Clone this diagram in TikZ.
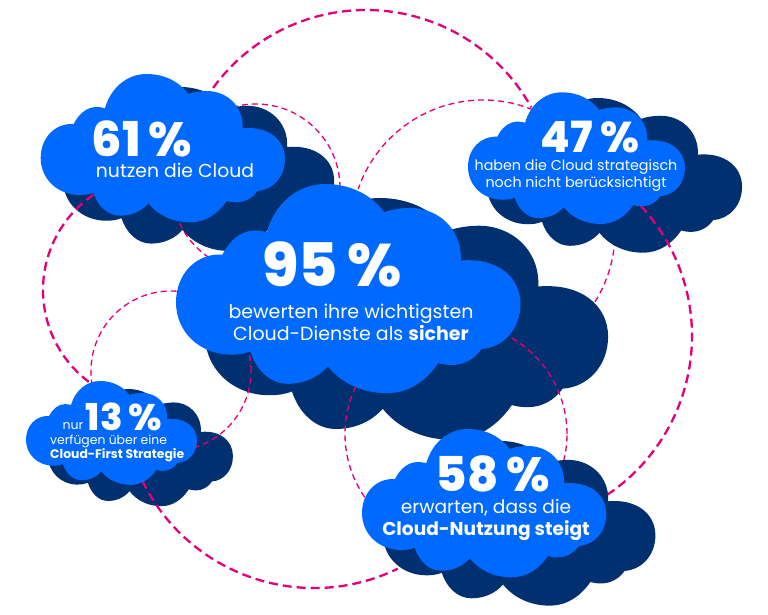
\documentclass[tikz,border=0pt]{standalone}
\usepackage{fontspec}
\setmainfont{Poppins}
\newfontfamily\pctfont{Poppins}[UprightFont=* ExtraBold]
\usepackage{color}

\definecolor{cloudlight}{HTML}{0069FF}
\definecolor{clouddark}{HTML}{00306F}
\definecolor{ringpink}{HTML}{E2007A}

% one cloud: left, top, x scale, y scale, colour
\newcommand{\cloudblob}[5]{
  \fill[#5,shift={(#1,-#2)},xscale=#3,yscale=#4]
    (0,-84) .. controls (0,-64) and (14,-49) .. (33,-50)
    .. controls (38,-40) and (46,-33) .. (56,-33)
    .. controls (59,-33) and (62,-33.5) .. (64.3,-34.3)
    .. controls (70,-14) and (86,0) .. (106,0)
    .. controls (124,0) and (139,-8) .. (147.7,-20)
    .. controls (153,-18) and (160,-17) .. (166,-17)
    .. controls (186,-17) and (203,-32) .. (202,-54.3)
    .. controls (228,-52) and (244.3,-66) .. (244.3,-85)
    .. controls (244.3,-103) and (232,-116) .. (216.7,-117)
    .. controls (212,-124) and (204,-128.3) .. (196,-128.3)
    .. controls (192,-128.3) and (189,-128) .. (186,-127)
    .. controls (177,-140) and (165,-148.3) .. (149.3,-148.3)
    .. controls (132,-148.3) and (117,-141) .. (107.7,-129.3)
    .. controls (101,-137) and (91,-141.7) .. (79.3,-141.7)
    .. controls (67,-141.7) and (57,-132) .. (52.7,-118.7)
    .. controls (48,-120.5) and (44,-121) .. (39,-121)
    .. controls (17,-121) and (0,-105) .. (0,-84) -- cycle;
}

\tikzset{
  thinring/.style={ringpink,line width=1.3pt,dash pattern=on 6pt off 4pt},
  thickring/.style={ringpink,line width=2.3pt,dash pattern=on 9pt off 5pt},
  pcttext/.style={text=white,inner sep=0pt,font=\pctfont\fontsize{#1}{#1}\selectfont},
  labeltext/.style 2 args={text=white,inner sep=0pt,align=center,font=\fontsize{#1}{#2}\selectfont}
}

\begin{document}
\begin{tikzpicture}[x=1pt,y=1pt]
  \useasboundingbox (0,0) rectangle (768,-614);

  % Dark clouds under the thin rings
  \cloudblob{63}{87}{1.11}{1.105}{clouddark}
  \cloudblob{48}{389}{0.757}{0.79}{clouddark}
  \cloudblob{205}{198}{1.65}{1.63}{clouddark}

  % Thin rings
  \draw[thinring] (171,-371) circle (80);
  \draw[thinring] (256,-188) circle (84);
  \draw[thinring] (456,-434) circle (111);
  \draw[thinring] (483,-232) ++(-32:132) arc (-32:161:132);

  % Dark clouds over the thin rings
  \cloudblob{487}{98}{1.044}{1.043}{clouddark}
  \cloudblob{383}{441}{1.115}{1.11}{clouddark}

  % Thick rings
  \draw[thickring] (366,-199) ++(144:189) arc (144:29:189);
  \draw[thickring] (501,-336) ++(43:191) arc (43:-56:191);
  \draw[thickring] (314,-397) ++(206:191) arc (206:296:191);
  \draw[thickring] (158,-290) ++(124:115) arc (124:233:115);

  % Light clouds
  \cloudblob{40.7}{74}{1}{1}{cloudlight}
  \cloudblob{468}{92.3}{0.888}{0.888}{cloudlight}
  \cloudblob{176}{184}{1.41}{1.41}{cloudlight}
  \cloudblob{26}{381}{0.70}{0.70}{cloudlight}
  \cloudblob{362}{429}{1}{1}{cloudlight}

  % Texts
  \node[pcttext=48] (pctA) at (142,-139) {61\,\%};
  \node[labeltext={18.8}{23}] (labelA) at (175,-170) {nutzen die Cloud};

  \node[pcttext=43] (pctB) at (590,-137) {47\,\%};
  \node[labeltext={14.3}{17}] (labelB) at (576,-175) {haben die Cloud strategisch\\noch nicht berücksichtigt};

  \node[pcttext=60] (pctC) at (332,-264) {95\,\%};
  \node[labeltext={19}{22}] (labelC) at (351,-322) {bewerten ihre wichtigsten\\Cloud-Dienste als \textbf{sicher}};

  \node[labeltext={12.5}{14}] (nurD) at (73,-426) {nur};
  \node[pcttext=37] (pctD) at (124,-417) {13\,\%};
  \node[labeltext={12.4}{14},anchor=west,align=left] (labelD) at (50,-448) {verfügen über eine\\\textbf{Cloud-First Strategie}};

  \node[pcttext=48] (pctE) at (493,-474) {58\,\%};
  \node[labeltext={18.6}{22}] (labelE) at (486,-520) {erwarten, dass die\\\textbf{Cloud-Nutzung steigt}};
\end{tikzpicture}
\end{document}
